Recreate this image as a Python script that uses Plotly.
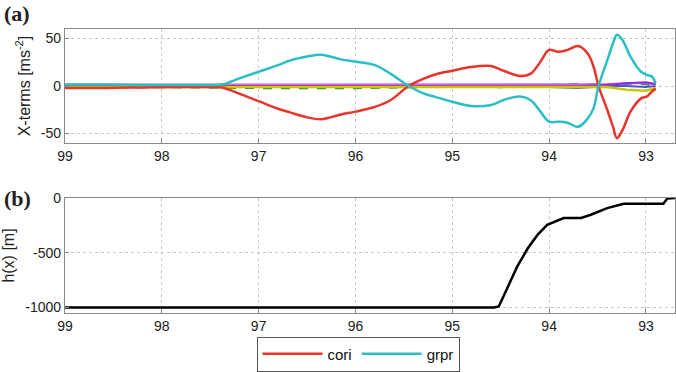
import plotly.graph_objects as go

# ---- data ----
lon_cori = [99.0, 98.6, 98.2, 97.8, 97.5, 97.38, 97.2, 97.0, 96.8, 96.67, 96.5, 96.36, 96.26, 96.15, 96.0,
            95.8, 95.64, 95.45, 95.3, 95.16, 95.0, 94.81, 94.6, 94.47, 94.3, 94.19, 94.09, 94.0,
            93.91, 93.81, 93.7, 93.6, 93.54, 93.49, 93.4, 93.34, 93.3, 93.24, 93.16, 93.05,
            92.99, 92.94, 92.9]
cori = [-2, -2, -1.5, -1, -1, -1.5, -8, -16, -24, -28, -33, -35, -33, -30, -27,
        -22, -15, 0, 7.5, 12.6, 16, 20, 21, 16, 10.5, 13, 25.6, 38,
        36, 38, 42, 34, 20, 0, -25, -43, -55, -46, -27, -13,
        -11, -6, -3]

lon_grpr = [99.0, 98.6, 98.2, 97.8, 97.5, 97.38, 97.2, 97.0, 96.8, 96.67, 96.5, 96.36, 96.26, 96.15, 96.0,
            95.8, 95.64, 95.45, 95.3, 95.16, 95.0, 94.81, 94.6, 94.47, 94.3, 94.19, 94.09, 94.0,
            93.91, 93.81, 93.7, 93.6, 93.54, 93.49, 93.4, 93.34, 93.3, 93.24, 93.16, 93.05,
            92.99, 92.94, 92.9]
grpr = [1.5, 1.5, 1, 1, 1, 1.5, 8, 15, 22, 27, 31, 33, 31, 28, 25.6,
        22, 13, 0, -7.7, -12, -16.5, -21, -20, -14.7, -11, -15, -27, -37.6,
        -37.6, -38.6, -43, -34, -23, 0, 27, 45, 54, 48, 31, 15,
        11.6, 10, 3]

lon_small = [99.0, 98.0, 97.0, 96.0, 95.0, 94.5, 94.0, 93.7, 93.4, 93.2, 93.0, 92.9]
small_blue = [1, 1, 1, 1, 0.5, 0.5, -1, -2, 0, 0, -1, 0]
small_green = [-1, -1, -2, -2, -0.5, -1, 1, 2, 1, 3, 2, 0]
small_magenta = [1.5, 1.5, 1.5, 1.5, 1.5, 1.5, 2, 2, 2, 3, 3, 2]
small_yellow = [-1, -1, -1, -1, -1, -1, -1, -1, -1, -4, -5, -2]
small_purple = [0, 0, 0, 0, 0, 0, 0, 0, 1, 3, 4, 2]

lon_h = [99.0, 96.0, 94.57, 94.52, 94.43, 94.33, 94.22, 94.12, 94.02, 93.85, 93.67, 93.57, 93.4,
         93.23, 92.82, 92.78, 92.7]
h = [-1000, -1000, -1000, -990, -811, -627, -459, -337, -245, -183, -183, -153, -92,
     -52, -52, -5, 0]

xticks = [99, 98, 97, 96, 95, 94, 93]
yticks_a = [-50, 0, 50]
yticks_b = [-1000, -500, 0]

RED = "#e8352b"
CYAN = "#2bbfc4"

fig = go.Figure()

fig.add_trace(go.Scatter(x=lon_small, y=small_blue, mode="lines", line=dict(color="#4a55d8", width=2),
                         showlegend=False, xaxis="x", yaxis="y"))
fig.add_trace(go.Scatter(x=lon_small, y=small_green, mode="lines", line=dict(color="#1e9a2a", width=2.5, dash="dash"),
                         showlegend=False, xaxis="x", yaxis="y"))
fig.add_trace(go.Scatter(x=lon_small, y=small_magenta, mode="lines", line=dict(color="#e060d0", width=2),
                         showlegend=False, xaxis="x", yaxis="y"))
fig.add_trace(go.Scatter(x=lon_small, y=small_purple, mode="lines", line=dict(color="#8a2be2", width=2),
                         showlegend=False, xaxis="x", yaxis="y"))
fig.add_trace(go.Scatter(x=lon_small, y=small_yellow, mode="lines", line=dict(color="#c8c800", width=2.5),
                         showlegend=False, xaxis="x", yaxis="y"))
fig.add_trace(go.Scatter(x=lon_cori, y=cori, mode="lines", name="cori", line=dict(color=RED, width=2.5),
                         line_shape="spline", xaxis="x", yaxis="y"))
fig.add_trace(go.Scatter(x=lon_grpr, y=grpr, mode="lines", name="grpr", line=dict(color=CYAN, width=2.5),
                         line_shape="spline", xaxis="x", yaxis="y"))
fig.add_trace(go.Scatter(x=lon_h, y=h, mode="lines", line=dict(color="black", width=2.5),
                         showlegend=False, xaxis="x2", yaxis="y2"))

axis_common = dict(showline=True, mirror=True, linecolor="#888888", linewidth=1.2,
                   showgrid=True, gridcolor="#c8c8c8", griddash="dot", gridwidth=1,
                   ticks="inside", ticklen=4, tickcolor="#888888", zeroline=False, automargin=False,
                   tickfont=dict(family="Liberation Sans, Arial", size=14, color="#222222"))

H = 372.0
W = 676.0
fig.update_layout(
    width=676, height=372,
    margin=dict(l=0, r=0, t=0, b=0, autoexpand=False),
    paper_bgcolor="white", plot_bgcolor="white",
    xaxis=dict(domain=[65/W, 675/W], range=[99, 92.7], tickvals=xticks, ticktext=[str(v) for v in xticks],
               anchor="y", **axis_common),
    yaxis=dict(domain=[1-143/H, 1-29/H], range=[-60, 60], tickvals=yticks_a, ticktext=[str(v) for v in yticks_a],
               anchor="x",
               title=dict(text="X-terms [ms<sup>-2</sup>]", standoff=6,
                          font=dict(family="Liberation Sans, Arial", size=16, color="#222222")),
               **axis_common),
    xaxis2=dict(domain=[65/W, 675/W], range=[99, 92.7], tickvals=xticks, ticktext=[str(v) for v in xticks],
                anchor="y2", **axis_common),
    yaxis2=dict(domain=[1-313/H, 1-198/H], range=[-1050, 0], tickvals=yticks_b, ticktext=[str(v) for v in yticks_b],
                anchor="x2",
                title=dict(text="h(x) [m]", standoff=6,
                           font=dict(family="Liberation Sans, Arial", size=16, color="#222222")),
                **axis_common),
    legend=dict(orientation="h", x=358/W, y=1-354/H, xanchor="center", yanchor="middle",
                bordercolor="#555555", borderwidth=1, bgcolor="white",
                font=dict(family="Liberation Sans, Arial", size=15, color="#111111"),
                itemwidth=60, tracegroupgap=0),
    annotations=[
        dict(text="<b>(a)</b>", x=2/W, y=1-14/H, xref="paper", yref="paper", xanchor="left", yanchor="middle",
             showarrow=False, font=dict(family="Liberation Serif, Times New Roman", size=22, color="#222222")),
        dict(text="<b>(b)</b>", x=2/W, y=1-198/H, xref="paper", yref="paper", xanchor="left", yanchor="middle",
             showarrow=False, font=dict(family="Liberation Serif, Times New Roman", size=22, color="#222222")),
    ],
)

fig.write_html("out.html", config={"displayModeBar": False},
               post_script="document.body.style.margin='0';document.body.style.overflow='hidden';")
